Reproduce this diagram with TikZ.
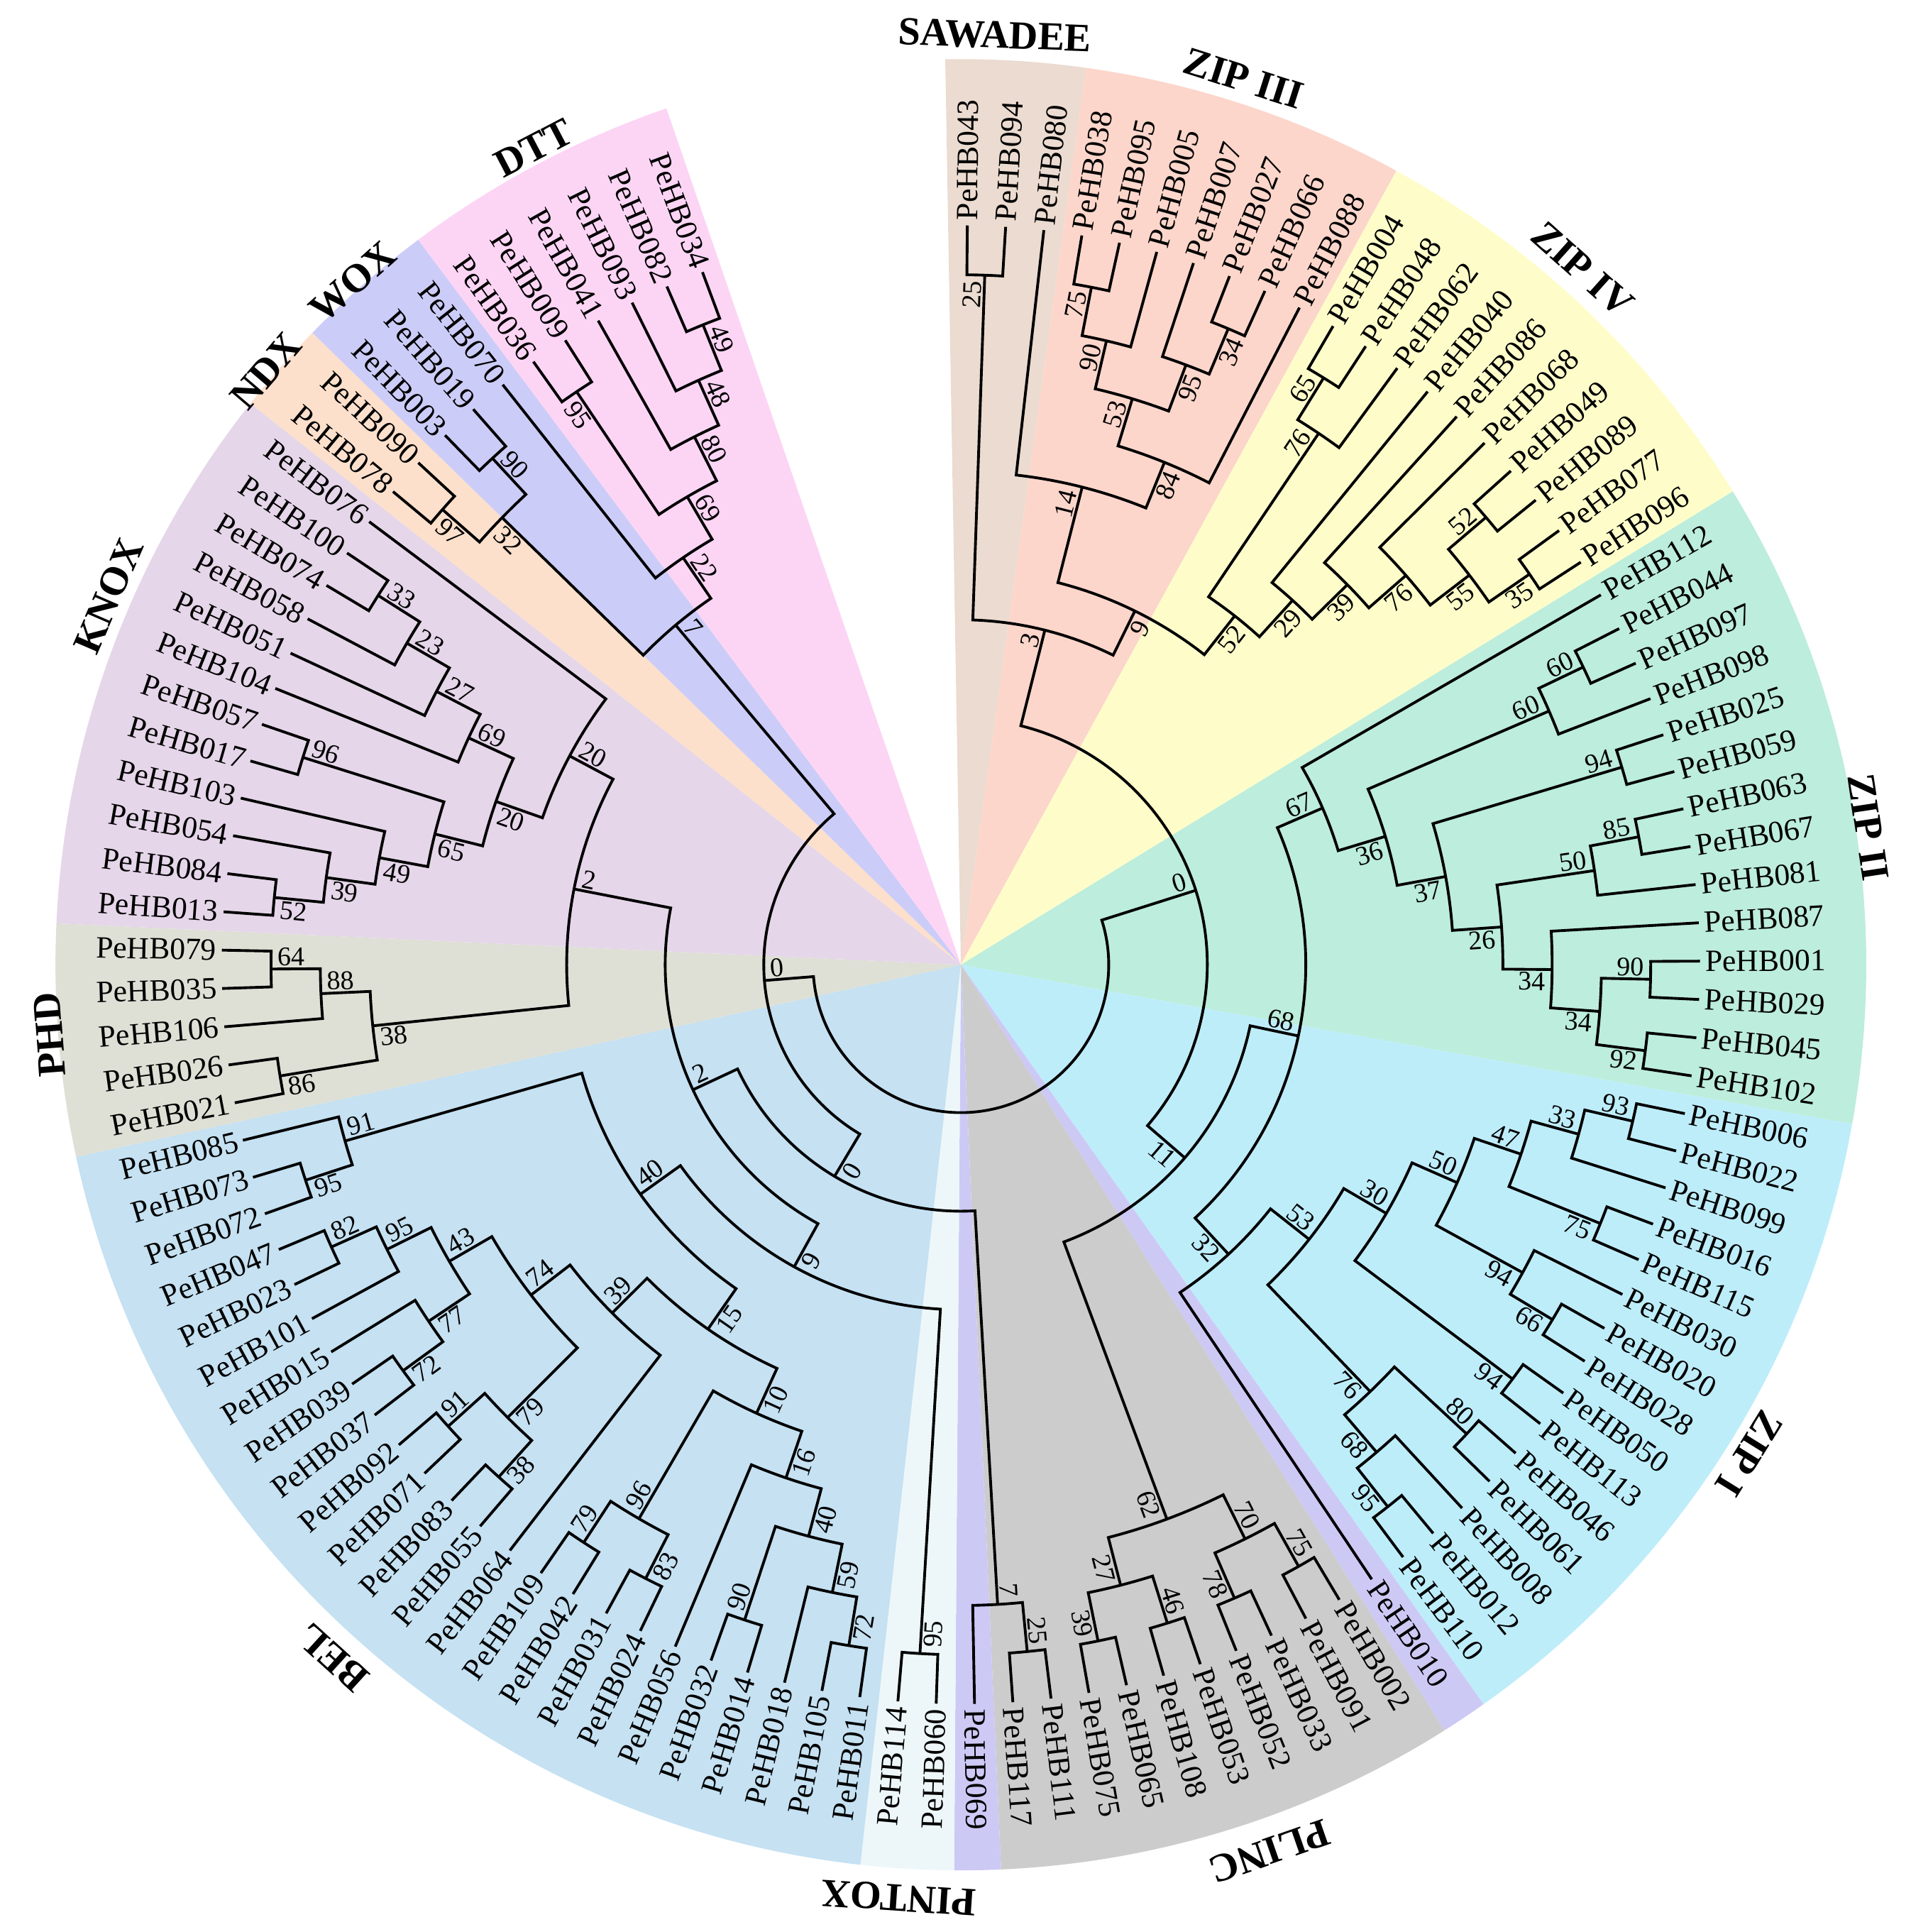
\documentclass[tikz,border=0pt]{standalone}
\usepackage{fontspec}
\setmainfont{Liberation Serif}

\definecolor{secSaw}{RGB}{235,219,208}
\definecolor{secZthree}{RGB}{252,214,203}
\definecolor{secZfour}{RGB}{254,253,202}
\definecolor{secZtwo}{RGB}{189,237,220}
\definecolor{secZone}{RGB}{190,237,250}
\definecolor{secLav}{RGB}{205,201,245}
\definecolor{secPlinc}{RGB}{204,204,204}
\definecolor{secPintox}{RGB}{237,247,249}
\definecolor{secBel}{RGB}{197,225,242}
\definecolor{secPhd}{RGB}{222,224,214}
\definecolor{secKnox}{RGB}{229,214,233}
\definecolor{secNdx}{RGB}{252,224,204}
\definecolor{secWox}{RGB}{204,204,248}
\definecolor{secDtt}{RGB}{252,213,245}

\newcommand\Rtip{600}
\newcommand\Rstep{40}
\newcommand\Rsec{735}

\tikzset{
  branch/.style={line width=1.1pt, line join=miter},
  leaf/.style={font=\fontsize{12.4}{14}\selectfont, inner sep=1pt},
  boot/.style={font=\fontsize{10.8}{12}\selectfont, inner sep=1pt},
  clade/.style={font=\bfseries\fontsize{16}{18}\selectfont, inner sep=0pt}
}

% wedge behind a clade: colour, first leaf, last leaf
\newcommand\sector[3]{%
  \pgfmathsetmacro\mysa{89.5-2.974*(#2-0.5)}%
  \pgfmathsetmacro\myse{89.5-2.974*(#3+0.5)}%
  \fill[#1] (0,0) -- ({\mysa}:{\Rsec}) arc[start angle=\mysa, end angle=\myse, radius=\Rsec] -- cycle;}

% leaf: number, position
\newcommand\lf[2]{%
  \pgfmathsetmacro\myla{89.5-2.974*#2}%
  \expandafter\xdef\csname a@#1\endcsname{\myla}%
  \expandafter\xdef\csname h@#1\endcsname{0}%
  \pgfmathtruncatemacro\myside{cos(\myla)>0}%
  \ifnum\myside=1
    \node[leaf, anchor=west, rotate=\myla] (L#1) at ({\myla}:{\Rtip+2}) {PeHB#1};%
  \else
    \node[leaf, anchor=east, rotate=\myla+180] (L#1) at ({\myla}:{\Rtip+2}) {PeHB#1};%
  \fi}

% bootstrap value of a child node, first (1) or second (0) child
\newcommand\bslabel[2]{%
  \ifcsname b@#1\endcsname
    \edef\myba{\csname a@#1\endcsname}%
    \edef\mybh{\csname h@#1\endcsname}%
    \pgfmathsetmacro\mybr{\Rtip-\Rstep*\mybh-3}%
    \pgfmathtruncatemacro\myside{cos(\myba)>0}%
    \ifnum\myside=1
      \ifnum#2=1 \def\myanc{south east}\else\def\myanc{north east}\fi
      \node[boot, anchor=\myanc, rotate=\myba] (B#1) at ({\myba}:{\mybr}) {\csname b@#1\endcsname};%
    \else
      \ifnum#2=1 \def\myanc{north west}\else\def\myanc{south west}\fi
      \node[boot, anchor=\myanc, rotate=\myba+180] (B#1) at ({\myba}:{\mybr}) {\csname b@#1\endcsname};%
    \fi
  \fi}

% inner node: name, first child, second child, bootstrap
\newcommand\nd[4]{%
  \edef\myca{\csname a@#2\endcsname}\edef\mycb{\csname a@#3\endcsname}%
  \edef\myha{\csname h@#2\endcsname}\edef\myhb{\csname h@#3\endcsname}%
  \pgfmathsetmacro\myna{(\myca+\mycb)/2}%
  \pgfmathtruncatemacro\mynh{max(\myha,\myhb)+1}%
  \pgfmathsetmacro\mynr{\Rtip-\Rstep*\mynh}%
  \pgfmathsetmacro\myra{\Rtip-\Rstep*\myha}%
  \pgfmathsetmacro\myrb{\Rtip-\Rstep*\myhb}%
  \expandafter\xdef\csname a@#1\endcsname{\myna}%
  \expandafter\xdef\csname h@#1\endcsname{\mynh}%
  \expandafter\gdef\csname b@#1\endcsname{#4}%
  \draw[branch] ({\myca}:{\myra}) -- ({\myca}:{\mynr})
    arc[start angle=\myca, end angle=\mycb, radius=\mynr] -- ({\mycb}:{\myrb});
  \bslabel{#2}{1}\bslabel{#3}{0}}

\begin{document}
\begin{tikzpicture}[x=0.17355mm, y=0.17355mm]
\useasboundingbox (-780,-785) rectangle (771,783);
%\draw [help lines, step=100] (-780,-785) grid (771,783);

% clade backgrounds
\sector{secSaw}{0}{2}
\sector{secZthree}{3}{9}
\sector{secZfour}{10}{19}
\sector{secZtwo}{20}{33}
\sector{secZone}{34}{48}
\sector{secLav}{49}{49}
\sector{secPlinc}{50}{59}
\sector{secLav}{60}{60}
\sector{secPintox}{61}{62}
\sector{secBel}{63}{86}
\sector{secPhd}{87}{91}
\sector{secKnox}{92}{103}
\sector{secNdx}{104}{105}
\sector{secWox}{106}{108}
\sector{secDtt}{109}{114}

% leaves, clockwise from the top
\lf{043}{0}\lf{094}{1}\lf{080}{2}
\lf{038}{3}\lf{095}{4}\lf{005}{5}\lf{007}{6}\lf{027}{7}\lf{066}{8}\lf{088}{9}
\lf{004}{10}\lf{048}{11}\lf{062}{12}\lf{040}{13}\lf{086}{14}\lf{068}{15}\lf{049}{16}\lf{089}{17}\lf{077}{18}\lf{096}{19}
\lf{112}{20}\lf{044}{21}\lf{097}{22}\lf{098}{23}\lf{025}{24}\lf{059}{25}\lf{063}{26}\lf{067}{27}\lf{081}{28}\lf{087}{29}\lf{001}{30}\lf{029}{31}\lf{045}{32}\lf{102}{33}
\lf{006}{34}\lf{022}{35}\lf{099}{36}\lf{016}{37}\lf{115}{38}\lf{030}{39}\lf{020}{40}\lf{028}{41}\lf{050}{42}\lf{113}{43}\lf{046}{44}\lf{061}{45}\lf{008}{46}\lf{012}{47}\lf{110}{48}
\lf{010}{49}
\lf{002}{50}\lf{091}{51}\lf{033}{52}\lf{052}{53}\lf{053}{54}\lf{108}{55}\lf{065}{56}\lf{075}{57}\lf{111}{58}\lf{117}{59}
\lf{069}{60}
\lf{060}{61}\lf{114}{62}
\lf{011}{63}\lf{105}{64}\lf{018}{65}\lf{014}{66}\lf{032}{67}\lf{056}{68}\lf{024}{69}\lf{031}{70}\lf{042}{71}\lf{109}{72}\lf{064}{73}\lf{055}{74}
\lf{083}{75}\lf{071}{76}\lf{092}{77}\lf{037}{78}\lf{039}{79}\lf{015}{80}\lf{101}{81}\lf{023}{82}\lf{047}{83}\lf{072}{84}\lf{073}{85}\lf{085}{86}
\lf{021}{87}\lf{026}{88}\lf{106}{89}\lf{035}{90}\lf{079}{91}
\lf{013}{92}\lf{084}{93}\lf{054}{94}\lf{103}{95}\lf{017}{96}\lf{057}{97}\lf{104}{98}\lf{051}{99}\lf{058}{100}\lf{074}{101}\lf{100}{102}\lf{076}{103}
\lf{078}{104}\lf{090}{105}
\lf{003}{106}\lf{019}{107}\lf{070}{108}
\lf{036}{109}\lf{009}{110}\lf{041}{111}\lf{093}{112}\lf{082}{113}\lf{034}{114}

% SAWADEE and ZIP III
\nd{sa1}{043}{094}{25}
\nd{z3a}{038}{095}{75}
\nd{z3b}{z3a}{005}{90}
\nd{z3c}{027}{066}{34}
\nd{z3d}{007}{z3c}{95}
\nd{z3e}{z3b}{z3d}{53}
\nd{z3f}{z3e}{088}{84}
\nd{z3g}{080}{z3f}{14}
% ZIP IV
\nd{z4a}{004}{048}{65}
\nd{z4b}{z4a}{062}{76}
\nd{z4c}{049}{089}{52}
\nd{z4d}{077}{096}{35}
\nd{z4e}{z4c}{z4d}{55}
\nd{z4f}{068}{z4e}{76}
\nd{z4g}{086}{z4f}{39}
\nd{z4h}{040}{z4g}{29}
\nd{z4i}{z4b}{z4h}{52}
\nd{up9}{z3g}{z4i}{9}
\nd{up3}{sa1}{up9}{3}
% ZIP II
\nd{z2a}{044}{097}{60}
\nd{z2b}{z2a}{098}{60}
\nd{z2c}{025}{059}{94}
\nd{z2d}{063}{067}{85}
\nd{z2e}{z2d}{081}{50}
\nd{z2f}{001}{029}{90}
\nd{z2g}{045}{102}{92}
\nd{z2h}{z2f}{z2g}{34}
\nd{z2i}{087}{z2h}{34}
\nd{z2j}{z2e}{z2i}{26}
\nd{z2k}{z2c}{z2j}{37}
\nd{z2l}{z2b}{z2k}{36}
\nd{z2m}{112}{z2l}{67}
% ZIP I
\nd{z1a}{006}{022}{93}
\nd{z1b}{z1a}{099}{33}
\nd{z1c}{016}{115}{75}
\nd{z1d}{z1b}{z1c}{47}
\nd{z1e}{020}{028}{66}
\nd{z1f}{030}{z1e}{94}
\nd{z1g}{z1d}{z1f}{50}
\nd{z1h}{050}{113}{94}
\nd{z1i}{z1g}{z1h}{30}
\nd{z1j}{046}{061}{80}
\nd{z1k}{012}{110}{95}
\nd{z1l}{008}{z1k}{68}
\nd{z1m}{z1j}{z1l}{76}
\nd{z1n}{z1i}{z1m}{53}
\nd{z1o}{z1n}{010}{32}
\nd{mid68}{z2m}{z1o}{68}
% PLINC
\nd{pla}{002}{091}{75}
\nd{plb}{033}{052}{78}
\nd{plc}{pla}{plb}{70}
\nd{pld}{053}{108}{46}
\nd{ple}{065}{075}{39}
\nd{plf}{pld}{ple}{27}
\nd{plg}{plc}{plf}{62}
\nd{mid11}{mid68}{plg}{11}
\nd{right0}{up3}{mid11}{0}
% PeHB069 group and PINTOX
\nd{pxa}{111}{117}{25}
\nd{pxb}{pxa}{069}{7}
\nd{pia}{060}{114}{95}
% BEL
\nd{bea}{011}{105}{72}
\nd{beb}{bea}{018}{59}
\nd{bec}{014}{032}{90}
\nd{bed}{beb}{bec}{40}
\nd{bee}{bed}{056}{16}
\nd{bef}{024}{031}{83}
\nd{beg}{042}{109}{79}
\nd{beh}{bef}{beg}{96}
\nd{bei}{bee}{beh}{10}
\nd{bej}{055}{083}{38}
\nd{bek}{071}{092}{91}
\nd{bel}{bej}{bek}{79}
\nd{bem}{037}{039}{72}
\nd{ben}{bem}{015}{77}
\nd{beo}{023}{047}{82}
\nd{bep}{101}{beo}{95}
\nd{beq}{ben}{bep}{43}
\nd{ber}{bel}{beq}{74}
\nd{bes}{064}{ber}{39}
\nd{bet}{bei}{bes}{15}
\nd{beu}{072}{073}{95}
\nd{bev}{beu}{085}{91}
\nd{bew}{bet}{bev}{40}
\nd{low9}{pia}{bew}{9}
% PHD
\nd{pha}{021}{026}{86}
\nd{phb}{035}{079}{64}
\nd{phc}{106}{phb}{88}
\nd{phd}{pha}{phc}{38}
% KNOX
\nd{kna}{013}{084}{52}
\nd{knb}{kna}{054}{39}
\nd{knc}{knb}{103}{49}
\nd{knd}{017}{057}{96}
\nd{kne}{knc}{knd}{65}
\nd{knf}{074}{100}{33}
\nd{kng}{058}{knf}{23}
\nd{knh}{051}{kng}{27}
\nd{kni}{104}{knh}{69}
\nd{knj}{kne}{kni}{20}
\nd{knk}{knj}{076}{20}
\nd{pk2}{phd}{knk}{2}
\nd{low2}{low9}{pk2}{2}
\nd{left0b}{pxb}{low2}{0}
% NDX, WOX, DTT
\nd{nda}{078}{090}{97}
\nd{woa}{003}{019}{90}
\nd{wob}{nda}{woa}{32}
\nd{dta}{036}{009}{95}
\nd{dtb}{082}{034}{49}
\nd{dtc}{093}{dtb}{48}
\nd{dtd}{041}{dtc}{80}
\nd{dte}{dta}{dtd}{69}
\nd{dtf}{070}{dte}{22}
\nd{dtg}{wob}{dtf}{7}
\nd{left0}{left0b}{dtg}{0}
\nd{root}{right0}{left0}{}

% clade names
\node[clade, rotate=87.9-90]   (Csaw)    at (87.9:755)   {SAWADEE};
\node[clade, rotate=72.3-90]   (Czthree) at (72.3:755)   {ZIP III};
\node[clade, rotate=48.2-90]   (Czfour)  at (48.2:757)   {ZIP IV};
\node[clade, rotate=8.6-90]    (Cztwo)   at (8.6:745)    {ZIP II};
\node[clade, rotate=-31.8-90]  (Czone)   at (-31.8:753)  {ZIP I};
\node[clade, rotate=-70.8-90]  (Cplinc)  at (-70.8:762)  {PLINC};
\node[clade, rotate=-93.8-90]  (Cpintox) at (-93.8:759)  {PINTOX};
\node[clade, rotate=-132.2-90] (Cbel)    at (-132.2:759) {BEL};
\node[clade, rotate=-175.6-90] (Cphd)    at (-175.6:742) {PHD};
\node[clade, rotate=156.6-90]  (Cknox)   at (156.6:754)  {KNOX};
\node[clade, rotate=139.5-90]  (Cndx)    at (139.5:742)  {NDX};
\node[clade, rotate=131.7-90]  (Cwox)    at (131.7:742)  {WOX};
\node[clade, rotate=117.6-90]  (Cdtt)    at (117.6:748)  {DTT};
\end{tikzpicture}
\end{document}
